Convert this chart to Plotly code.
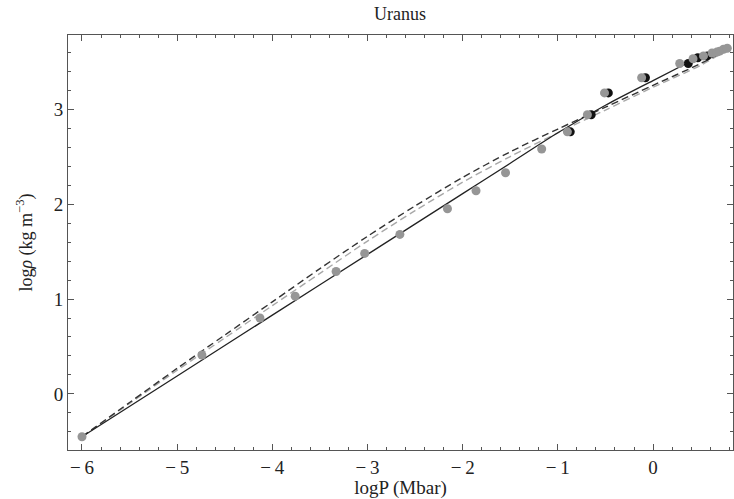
import plotly.graph_objects as go

# Model curves
solid_x = [-6, -5, -4, -3, -2, -1.5, -1, -0.5, 0, 0.37]
solid_y = [-0.45, 0.19, 0.83, 1.47, 2.11, 2.43, 2.75, 3.04, 3.30, 3.49]

dark_dash_x = [-6, -5.5, -5, -4.5, -4, -3.5, -3, -2.5, -2, -1.5, -1, -0.5, 0, 0.5, 0.82]
dark_dash_y = [-0.45, -0.09, 0.27, 0.62, 0.97, 1.32, 1.66, 1.98, 2.28, 2.55, 2.79, 3.02, 3.25, 3.48, 3.65]

light_dash_x = [-6, -5.5, -5, -4.5, -4, -3.5, -3, -2.5, -2, -1.5, -1, -0.5, 0, 0.5, 0.82]
light_dash_y = [-0.45, -0.10, 0.25, 0.59, 0.93, 1.27, 1.61, 1.93, 2.23, 2.50, 2.75, 2.99, 3.23, 3.46, 3.65]

# Data points
gray_x = [-6.0, -4.74, -4.13, -3.76, -3.33, -3.03, -2.66, -2.16, -1.86, -1.55, -1.17,
          -0.90, -0.69, -0.51, -0.12, 0.28, 0.42, 0.53, 0.62, 0.67, 0.70, 0.74, 0.78]
gray_y = [-0.45, 0.41, 0.80, 1.03, 1.29, 1.48, 1.68, 1.95, 2.14, 2.33, 2.58,
          2.76, 2.94, 3.17, 3.33, 3.48, 3.53, 3.56, 3.59, 3.60, 3.61, 3.63, 3.64]

black_x = [-0.87, -0.65, -0.47, -0.08, 0.37, 0.47, 0.57]
black_y = [2.76, 2.94, 3.17, 3.33, 3.48, 3.54, 3.56]

# Tick labels
x_tick_vals = [-6, -5, -4, -3, -2, -1, 0]
x_tick_text = ["\u2212\u20096", "\u2212\u20095", "\u2212\u20094", "\u2212\u20093", "\u2212\u20092", "\u2212\u20091", "0"]
y_tick_vals = [0, 1, 2, 3]
y_tick_text = ["0", "1", "2", "3"]

FONT = "Liberation Serif"

fig = go.Figure()
fig.add_trace(go.Scatter(x=light_dash_x, y=light_dash_y, mode="lines",
                         line=dict(color="#a8a8a8", width=1.4, dash="7px,4px", shape="spline", smoothing=0.8),
                         showlegend=False))
fig.add_trace(go.Scatter(x=dark_dash_x, y=dark_dash_y, mode="lines",
                         line=dict(color="#333333", width=1.4, dash="7px,4px", shape="spline", smoothing=0.8),
                         showlegend=False))
fig.add_trace(go.Scatter(x=solid_x, y=solid_y, mode="lines",
                         line=dict(color="#222222", width=1.3, shape="spline", smoothing=0.8),
                         showlegend=False))
fig.add_trace(go.Scatter(x=black_x, y=black_y, mode="markers",
                         marker=dict(color="#111111", size=9), showlegend=False))
fig.add_trace(go.Scatter(x=gray_x, y=gray_y, mode="markers",
                         marker=dict(color="#969696", size=9), showlegend=False))

axis_common = dict(
    showgrid=False, zeroline=False, showline=True, linecolor="#555555", linewidth=1,
    mirror="ticks", ticks="inside", ticklen=6, tickcolor="#555555", tickwidth=1,
    tickfont=dict(family=FONT, size=19, color="#222222"),
)
fig.update_xaxes(range=[-6.147, 0.84], tickmode="array", tickvals=x_tick_vals, ticktext=x_tick_text,
                 minor=dict(tickmode="linear", tick0=0, dtick=0.2, ticks="inside", ticklen=3, tickcolor="#555555"),
                 title=dict(text="logP (Mbar)", font=dict(family=FONT, size=19, color="#222222"),
                            standoff=4),
                 **axis_common)
fig.update_yaxes(range=[-0.59, 3.78], tickmode="array", tickvals=y_tick_vals, ticktext=y_tick_text,
                 minor=dict(tickmode="linear", tick0=0, dtick=0.2, ticks="inside", ticklen=3, tickcolor="#555555"),
                 title=dict(text="log<i>ρ</i> (kg m<sup>−3</sup>)",
                            font=dict(family=FONT, size=18, color="#222222"), standoff=16),
                 **axis_common)
fig.update_layout(
    width=734, height=499,
    margin=dict(l=68, r=1, t=35, b=49),
    paper_bgcolor="white", plot_bgcolor="white",
    title=dict(text="Uranus", x=0.545, xanchor="center", y=0.985, yanchor="top",
               font=dict(family=FONT, size=18, color="#222222")),
)
fig.write_html("out.html")
